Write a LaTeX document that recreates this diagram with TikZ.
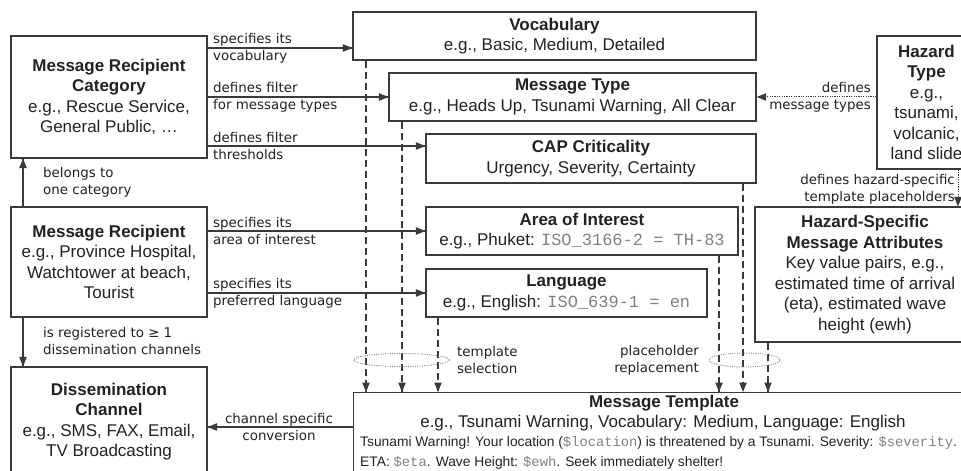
\documentclass[tikz,border=0pt]{standalone}
\usepackage{fontspec}
\setmainfont{Liberation Sans}
\setmonofont{Liberation Mono}
\newfontfamily\lblfont{DejaVu Sans}
\definecolor{linegray}{HTML}{3A3A3A}
\definecolor{textgray}{HTML}{222222}
\definecolor{codegray}{HTML}{808080}
\newcommand{\code}[1]{{\ttfamily\color{codegray}#1}}
\begin{document}
\begin{tikzpicture}[scale=0.35146]
\tikzstyle{every node}+=[inner sep=0pt, text=textgray]
\tikzstyle{box}=[draw=linegray, line width=1.2pt, align=center, font=\fontsize{17}{20.5}\selectfont]
\tikzstyle{lbl}=[align=left, font=\lblfont\fontsize{13.4}{17}\selectfont]
\tikzstyle{conn}=[draw=linegray, line width=1.2pt]
\tikzstyle{dashedconn}=[conn, dash pattern=on 7pt off 4pt]
\tikzstyle{dottedconn}=[conn, line width=1pt, dash pattern=on 1.2pt off 1.2pt]
\tikzstyle{group}=[draw=gray, line width=0.9pt, dash pattern=on 1pt off 1.3pt]
\useasboundingbox (0,0) rectangle (96.1,-47.1);
\clip (0,0) rectangle (96.1,-47.1);
\node [box, minimum width=196pt, minimum height=122pt] (cat) at (10.9,-9.7) {\textbf{Message Recipient}\\\textbf{Category}\\e.g., Rescue Service,\\General Public, …};
\node [box, minimum width=196pt, minimum height=110pt] (rcp) at (10.9,-26.2) {\textbf{Message Recipient}\\e.g., Province Hospital,\\Watchtower at beach,\\Tourist};
\node [box, minimum width=196pt, minimum height=109pt] (dis) at (10.9,-42.15) {\textbf{Dissemination}\\\textbf{Channel}\\e.g., SMS, FAX, Email,\\TV Broadcasting};
\node [box, minimum width=403pt, minimum height=48pt] (vocab) at (55.45,-3.6) {\textbf{Vocabulary}\\e.g., Basic, Medium, Detailed};
\node [box, minimum width=367pt, minimum height=48pt] (mtype) at (57.25,-9.7) {\textbf{Message Type}\\e.g., Heads Up, Tsunami Warning, All Clear};
\node [box, minimum width=330pt, minimum height=49pt] (cap) at (59.1,-15.85) {\textbf{CAP Criticality}\\Urgency, Severity, Certainty};
\node [box, minimum width=312pt, minimum height=48pt] (area) at (58.2,-23.1) {\textbf{Area of Interest}\\e.g., Phuket: \code{ISO\_3166-2 = TH-83}};
\node [box, minimum width=281pt, minimum height=48pt] (lang) at (56.65,-29.3) {\textbf{Language}\\e.g., English: \code{ISO\_639-1 = en}};
\node [box, minimum width=99pt, minimum height=133pt] (hazt) at (92.65,-10.25) {\textbf{Hazard}\\\textbf{Type}\\e.g.,\\tsunami,\\volcanic,\\land slide};
\node [box, minimum width=220pt, minimum height=135pt] (hspec) at (86.5,-27.45) {\textbf{Hazard-Specific}\\\textbf{Message Attributes}\\Key value pairs, e.g.,\\estimated time of arrival\\(eta), estimated wave\\height (ewh)};
\node [box, minimum width=622pt, minimum height=82pt, anchor=north west] (tmpl) at (35.3,-39.2) {};
\node [font=\bfseries\fontsize{17}{20}\selectfont] (tmplhead) at (66.4,-40.3) {Message Template};
\node [font=\fontsize{17}{20}\selectfont] (tmplex) at (66.3,-42.3) {e.g., Tsunami Warning, Vocabulary: Medium, Language: English};
\node [font=\fontsize{13.8}{20}\selectfont, align=left, anchor=west] (tmplmsg) at (36.0,-45.3) {Tsunami Warning! Your location (\code{\$location}) is threatened by a Tsunami. Severity: \code{\$severity}.\\ETA: \code{\$eta}. Wave Height: \code{\$ewh}. Seek immediately shelter!};
\draw [conn] (cat.east |- 0,-4.8) -- (vocab.west |- 0,-4.8);
\fill [linegray] (vocab.west |- 0,-4.8) -- ++(-0.95,0.38) -- ++(0,-0.76) -- cycle;
\node [lbl, anchor=west] (lvocab) at (21.3,-4.8) {specifies its\\vocabulary};
\draw [conn] (cat.east |- mtype.west) -- (mtype.west);
\fill [linegray] (mtype.west) -- ++(-0.95,0.38) -- ++(0,-0.76) -- cycle;
\node [lbl, anchor=west] (lmtype) at (21.3,-9.7) {defines filter\\for message types};
\draw [conn] (cat.east |- 0,-14.6) -- (cap.west |- 0,-14.6);
\fill [linegray] (cap.west |- 0,-14.6) -- ++(-0.95,0.38) -- ++(0,-0.76) -- cycle;
\node [lbl, anchor=west] (lcap) at (21.3,-14.6) {defines filter\\thresholds};
\draw [conn] (rcp.north -| 2.3,0) -- (cat.south -| 2.3,0);
\fill [linegray] (cat.south -| 2.3,0) -- ++(-0.38,-0.95) -- ++(0.76,0) -- cycle;
\node [lbl, anchor=west] (lcat) at (4.3,-18.25) {belongs to\\one category};
\draw [conn] (rcp.east |- area.west) -- (area.west);
\fill [linegray] (area.west) -- ++(-0.95,0.38) -- ++(0,-0.76) -- cycle;
\node [lbl, anchor=west] (larea) at (21.3,-23.1) {specifies its\\area of interest};
\draw [conn] (rcp.east |- lang.west) -- (lang.west);
\fill [linegray] (lang.west) -- ++(-0.95,0.38) -- ++(0,-0.76) -- cycle;
\node [lbl, anchor=west] (llang) at (21.3,-29.3) {specifies its\\preferred language};
\draw [conn] (rcp.south -| 2.3,0) -- (dis.north -| 2.3,0);
\fill [linegray] (dis.north -| 2.3,0) -- ++(-0.38,0.95) -- ++(0.76,0) -- cycle;
\node [lbl, anchor=west] (ldis) at (4.3,-34.15) {is registered to ≥ 1\\dissemination channels};
\draw [conn] (tmpl.west |- 0,-42.7) -- (dis.east |- 0,-42.7);
\fill [linegray] (dis.east |- 0,-42.7) -- ++(0.95,0.38) -- ++(0,-0.76) -- cycle;
\node [lbl, align=center] (lconv) at (27.9,-42.7) {channel specific\\conversion};
\draw [dottedconn] (hazt.west |- mtype.east) -- (mtype.east);
\fill [linegray] (mtype.east) -- ++(0.95,0.38) -- ++(0,-0.76) -- cycle;
\node [lbl, align=right, anchor=east] (lhazt) at (87.1,-9.7) {defines\\message types};
\draw [dottedconn] (hazt.south -| 95.8,0) -- (hspec.north -| 95.8,0);
\fill [linegray] (hspec.north -| 95.8,0) -- ++(-0.38,0.95) -- ++(0.76,0) -- cycle;
\node [lbl, align=right, anchor=east] (lhspec) at (95.5,-18.9) {defines hazard-specific\\template placeholders};
\draw [dashedconn] (vocab.south -| 36.6,0) -- (tmpl.north -| 36.6,0);
\fill [linegray] (tmpl.north -| 36.6,0) -- ++(-0.38,0.95) -- ++(0.76,0) -- cycle;
\draw [dashedconn] (mtype.south -| 40.2,0) -- (tmpl.north -| 40.2,0);
\fill [linegray] (tmpl.north -| 40.2,0) -- ++(-0.38,0.95) -- ++(0.76,0) -- cycle;
\draw [dashedconn] (lang.south -| 43.8,0) -- (tmpl.north -| 43.8,0);
\fill [linegray] (tmpl.north -| 43.8,0) -- ++(-0.38,0.95) -- ++(0.76,0) -- cycle;
\draw [dashedconn] (area.south -| 71.9,0) -- (tmpl.north -| 71.9,0);
\fill [linegray] (tmpl.north -| 71.9,0) -- ++(-0.38,0.95) -- ++(0.76,0) -- cycle;
\draw [dashedconn] (cap.south -| 74.3,0) -- (tmpl.north -| 74.3,0);
\fill [linegray] (tmpl.north -| 74.3,0) -- ++(-0.38,0.95) -- ++(0.76,0) -- cycle;
\draw [dashedconn] (hspec.south -| 76.8,0) -- (tmpl.north -| 76.8,0);
\fill [linegray] (tmpl.north -| 76.8,0) -- ++(-0.38,0.95) -- ++(0.76,0) -- cycle;
\draw [group] (40.15,-36) ellipse (4.8 and 0.65);
\draw [group] (74.45,-36) ellipse (3.55 and 0.7);
\node [lbl, anchor=west] (lsel) at (45.7,-36) {template\\selection};
\node [lbl, align=right, anchor=east] (lrep) at (69.9,-36) {placeholder\\replacement};
\end{tikzpicture}
\end{document}
